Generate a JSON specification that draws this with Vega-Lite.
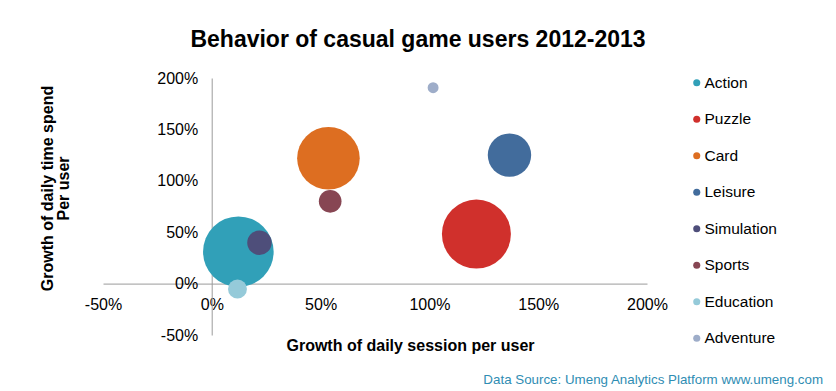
{
  "$schema": "https://vega.github.io/schema/vega-lite/v6.json",
  "width": 544,
  "height": 257,
  "autosize": {"type": "none"},
  "padding": {"left": 103, "top": 78, "right": 189, "bottom": 56},
  "background": "white",
  "config": {
    "view": {"stroke": null},
    "font": "Liberation Sans",
    "axis": {"labelFont": "Liberation Sans", "titleFont": "Liberation Sans"},
    "legend": {"labelFont": "Liberation Sans"}
  },
  "title": {
    "text": "Behavior of casual game users 2012-2013",
    "font": "Liberation Sans",
    "fontSize": 23,
    "fontWeight": "bold",
    "color": "black",
    "anchor": "middle",
    "dx": 43,
    "dy": -14
  },
  "layer": [
    {
      "data": {
        "values": [
          {"genre": "Action", "session": 0.122, "time": 0.31, "users": 100},
          {"genre": "Puzzle", "session": 1.216, "time": 0.482, "users": 95.5},
          {"genre": "Card", "session": 0.536, "time": 1.219, "users": 78.6},
          {"genre": "Leisure", "session": 1.368, "time": 1.25, "users": 37.8},
          {"genre": "Simulation", "session": 0.219, "time": 0.398, "users": 12},
          {"genre": "Sports", "session": 0.544, "time": 0.8, "users": 10.3},
          {"genre": "Education", "session": 0.118, "time": -0.053, "users": 7.2},
          {"genre": "Adventure", "session": 1.017, "time": 1.906, "users": 2.4}
        ]
      },
      "mark": {"type": "circle", "opacity": 1},
      "encoding": {
        "x": {
          "field": "session",
          "type": "quantitative",
          "scale": {"domain": [-0.5, 2], "nice": false, "zero": false},
          "axis": {
            "orient": "bottom",
            "offset": -51.4,
            "values": [-0.5, 0, 0.5, 1, 1.5, 2],
            "labelExpr": "round(datum.value*100) + '%'",
            "grid": false,
            "ticks": false,
            "domainColor": "#9b9b9b",
            "labelFontSize": 16,
            "labelColor": "black",
            "labelPadding": 13,
            "labelFlush": false,
            "labelOverlap": false,
            "title": "Growth of daily session per user",
            "titleFontSize": 16,
            "titleFontWeight": "bold",
            "titleColor": "black",
            "titleX": 307,
            "titleY": 62,
            "titleAlign": "center",
            "titleBaseline": "middle"
          }
        },
        "y": {
          "field": "time",
          "type": "quantitative",
          "scale": {"domain": [-0.5, 2], "nice": false, "zero": false},
          "axis": {
            "orient": "left",
            "offset": -108.7,
            "values": [-0.5, 0, 0.5, 1, 1.5, 2],
            "labelExpr": "round(datum.value*100) + '%'",
            "grid": false,
            "ticks": false,
            "domainColor": "#9b9b9b",
            "labelFontSize": 16,
            "labelColor": "black",
            "labelPadding": 14,
            "labelFlush": false,
            "labelOverlap": false,
            "title": ["Growth of  daily time spend", "Per user"],
            "titleFontSize": 16,
            "titleFontWeight": "bold",
            "titleColor": "black",
            "titleLineHeight": 16,
            "titleX": -164,
            "titleY": 110,
            "titleAngle": -90,
            "titleAlign": "center",
            "titleBaseline": "middle"
          }
        },
        "size": {
          "field": "users",
          "type": "quantitative",
          "scale": {"domain": [0, 100], "range": [0, 4984], "zero": true},
          "legend": null
        },
        "color": {
          "field": "genre",
          "type": "nominal",
          "scale": {
            "domain": ["Action", "Puzzle", "Card", "Leisure", "Simulation", "Sports", "Education", "Adventure"],
            "range": ["#31A0B8", "#D0302C", "#DD6E21", "#426C9C", "#4E4E7A", "#874653", "#95CAD9", "#9EADC9"]
          },
          "legend": {
            "title": null,
            "orient": "none",
            "legendX": 586,
            "legendY": -3,
            "padding": 0,
            "symbolType": "circle",
            "symbolSize": 50,
            "symbolOpacity": 1,
            "symbolStrokeWidth": 0,
            "labelFontSize": 15.5,
            "labelColor": "black",
            "labelOffset": 0,
            "rowPadding": 19.5
          }
        }
      }
    },
    {
      "data": {"values": [{"note": "Data Source: Umeng Analytics Platform www.umeng.com"}]},
      "mark": {"type": "text", "align": "right", "baseline": "middle", "fontSize": 13.35, "color": "#2F8DB3", "font": "Liberation Sans"},
      "encoding": {
        "x": {"datum": 2.809},
        "y": {"datum": -0.938},
        "text": {"field": "note"}
      }
    }
  ]
}
